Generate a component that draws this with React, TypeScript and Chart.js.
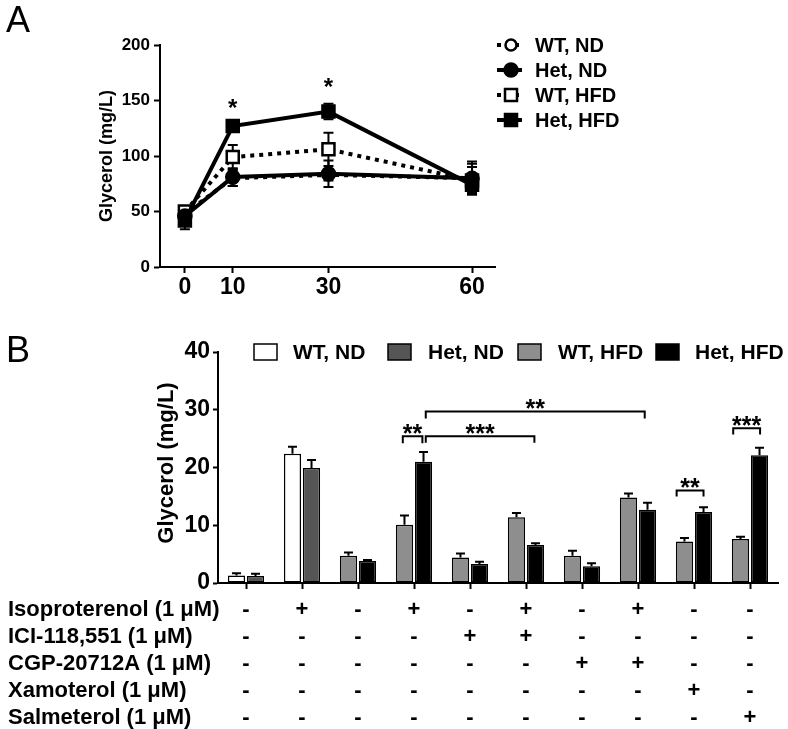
import React, { useEffect, useRef } from "react";
import { Chart, registerables } from "chart.js";

Chart.register(...registerables);

const FONT = "'Liberation Sans', Arial, Helvetica, sans-serif";

// ---------- Panel A data ----------
const timePoints = [0, 10, 30, 60];
const timeTicks = [0, 10, 30, 60];
const seriesNames = ["WT, ND", "Het, ND", "WT, HFD", "Het, HFD"];
const wtND_A = [48, 80, 83, 80];
const hetND_A = [46, 81, 84, 80];
const wtHFD_A = [50, 99, 106, 78];
const hetHFD_A = [42, 127, 140, 74];
const wtND_A_err = [5, 7, 5, 15];
const hetND_A_err = [6, 8, 12, 13];
const wtHFD_A_err = [5, 11, 15, 12];
const hetHFD_A_err = [8, 3, 7, 8];
const starTimesA = [10, 30];
const starLevelsA = [148, 167];

// ---------- Panel B data ----------
const conditionsB = ["Veh ND", "Iso ND", "Veh HFD", "Iso HFD", "ICI", "Iso+ICI", "CGP", "Iso+CGP", "Xam", "Sal"];
const wtND_B = [1.3, 22.4, null, null, null, null, null, null, null, null];
const hetND_B = [1.2, 19.9, null, null, null, null, null, null, null, null];
const wtHFD_B = [null, null, 4.7, 10.1, 4.4, 11.4, 4.7, 14.8, 7.2, 7.6];
const hetHFD_B = [null, null, 3.8, 21.0, 3.3, 6.6, 2.9, 12.7, 12.3, 22.1];
const wtND_B_err = [0.4, 1.2, null, null, null, null, null, null, null, null];
const hetND_B_err = [0.4, 1.4, null, null, null, null, null, null, null, null];
const wtHFD_B_err = [null, null, 0.6, 1.6, 0.7, 0.7, 0.9, 0.7, 0.6, 0.4];
const hetHFD_B_err = [null, null, 0.2, 1.7, 0.4, 0.3, 0.5, 1.2, 0.8, 1.3];

const bracketStart = [2.8, 3.21, 3.21, 7.69, 8.7];
const bracketEnd = [3.15, 5.15, 7.12, 8.17, 9.18];
const bracketLevel = [25.4, 25.4, 29.7, 16.0, 26.8];
const bracketLeg = [24.2, 24.3, 28.5, 15.0, 25.7];
const bracketLabel = ["**", "***", "**", "**", "***"];

const drugNames = [
  "Isoproterenol (1 \u03BCM)",
  "ICI-118,551 (1 \u03BCM)",
  "CGP-20712A (1 \u03BCM)",
  "Xamoterol (1 \u03BCM)",
  "Salmeterol (1 \u03BCM)",
];
const isoproterenol = ["-", "+", "-", "+", "-", "+", "-", "+", "-", "-"];
const ici118551 = ["-", "-", "-", "-", "+", "+", "-", "-", "-", "-"];
const cgp20712a = ["-", "-", "-", "-", "-", "-", "+", "+", "-", "-"];
const xamoterol = ["-", "-", "-", "-", "-", "-", "-", "-", "+", "-"];
const salmeterol = ["-", "-", "-", "-", "-", "-", "-", "-", "-", "+"];

const barColors = ["#ffffff", "#555555", "#8e8e8e", "#000000"];

function drawStar(ctx: CanvasRenderingContext2D, text: string, x: number, cy: number, size: number) {
  ctx.save();
  ctx.font = `bold ${size}px ${FONT}`;
  ctx.fillStyle = "#000";
  ctx.textAlign = "center";
  ctx.textBaseline = "alphabetic";
  ctx.fillText(text, x, cy + 0.55 * size);
  ctx.restore();
}

function drawMarker(ctx: CanvasRenderingContext2D, kind: string, x: number, y: number, filled: boolean) {
  ctx.save();
  ctx.lineWidth = 2.5;
  ctx.strokeStyle = "#000";
  ctx.fillStyle = filled ? "#000" : "#fff";
  ctx.beginPath();
  if (kind === "circle") {
    ctx.arc(x, y, filled ? 6.5 : 5.5, 0, Math.PI * 2);
  } else {
    ctx.rect(x - 6, y - 6, 12, 12);
  }
  ctx.fill();
  ctx.stroke();
  ctx.restore();
}

export default function App() {
  const refA = useRef<HTMLCanvasElement>(null);
  const refB = useRef<HTMLCanvasElement>(null);

  useEffect(() => {
    const valuesA = [wtND_A, hetND_A, wtHFD_A, hetHFD_A];
    const errsA = [wtND_A_err, hetND_A_err, wtHFD_A_err, hetHFD_A_err];
    const markerKinds = ["circle", "circle", "rect", "rect"];
    const markerFilled = [false, true, false, true];
    const dashed = [true, false, true, false];

    const panelAPlugin = {
      id: "panelA",
      beforeDatasetsDraw(chart: any) {
        const { ctx, scales } = chart;
        const x = scales.x, y = scales.y;
        ctx.save();
        ctx.strokeStyle = "#000";
        ctx.lineWidth = 2;
        valuesA.forEach((vals, s) => {
          timePoints.forEach((t, i) => {
            const px = x.getPixelForValue(t);
            const top = y.getPixelForValue(vals[i] + errsA[s][i]);
            const bot = y.getPixelForValue(vals[i] - errsA[s][i]);
            ctx.beginPath();
            ctx.moveTo(px, top); ctx.lineTo(px, bot);
            ctx.moveTo(px - 5, top); ctx.lineTo(px + 5, top);
            ctx.moveTo(px - 5, bot); ctx.lineTo(px + 5, bot);
            ctx.stroke();
          });
        });
        ctx.restore();
      },
      afterDraw(chart: any) {
        const { ctx, scales } = chart;
        const x = scales.x, y = scales.y;
        starTimesA.forEach((t, i) => drawStar(ctx, "*", x.getPixelForValue(t), y.getPixelForValue(starLevelsA[i]), 24));
        // legend
        const rows = [45, 70, 95, 120];
        seriesNames.forEach((name, i) => {
          const ry = rows[i];
          ctx.save();
          ctx.strokeStyle = "#000";
          ctx.lineWidth = 4;
          if (dashed[i]) ctx.setLineDash([4, 5]);
          ctx.beginPath();
          ctx.moveTo(497, ry); ctx.lineTo(522, ry);
          ctx.stroke();
          ctx.restore();
          drawMarker(ctx, markerKinds[i], 511, ry, markerFilled[i]);
          ctx.save();
          ctx.font = `bold 20px ${FONT}`;
          ctx.fillStyle = "#000";
          ctx.textAlign = "left";
          ctx.textBaseline = "middle";
          ctx.fillText(name, 535, ry + 1);
          ctx.restore();
        });
        // y title
        ctx.save();
        ctx.translate(107, 156);
        ctx.rotate(-Math.PI / 2);
        ctx.font = `bold 18px ${FONT}`;
        ctx.fillStyle = "#000";
        ctx.textAlign = "center";
        ctx.textBaseline = "middle";
        ctx.fillText("Glycerol (mg/L)", 0, 0);
        ctx.restore();
        // panel letter
        ctx.save();
        ctx.font = `36px ${FONT}`;
        ctx.fillStyle = "#000";
        ctx.textBaseline = "alphabetic";
        ctx.fillText("A", 6, 32);
        ctx.restore();
      },
    };

    const datasetsA = valuesA.map((vals, s) => ({
      label: seriesNames[s],
      data: timePoints.map((t, i) => ({ x: t, y: vals[i] })),
      borderColor: "#000",
      borderWidth: dashed[s] ? 4 : 4,
      borderDash: dashed[s] ? [4, 5] : [],
      borderCapStyle: "butt",
      pointStyle: markerKinds[s],
      pointRadius: markerKinds[s] === "rect" ? 8.5 : (markerFilled[s] ? 6.5 : 5.5),
      pointBackgroundColor: markerFilled[s] ? "#000" : "#fff",
      pointBorderColor: "#000",
      pointBorderWidth: 2.5,
      fill: false,
      tension: 0,
      order: [3, 1, 2, 0][s],
    }));

    const tickFont = (size: number) => ({ family: FONT, size, weight: "bold" as const });

    const chartA = new Chart(refA.current as HTMLCanvasElement, {
      type: "line",
      data: { datasets: datasetsA as any },
      options: {
        responsive: false,
        animation: false,
        events: [],
        layout: { padding: { left: 0, top: 45, right: 293, bottom: 0 } },
        plugins: { legend: { display: false }, tooltip: { enabled: false } },
        scales: {
          x: {
            type: "linear",
            min: -5.2,
            max: 64.8,
            afterBuildTicks: (s: any) => { s.ticks = timeTicks.map((v) => ({ value: v })); },
            afterFit: (s: any) => { s.height = 53; },
            grid: { drawOnChartArea: false, drawTicks: true, tickLength: 6, tickWidth: 2, color: "#000" },
            border: { color: "#000", width: 2 },
            ticks: { color: "#000", font: tickFont(23), padding: 1, maxRotation: 0, autoSkip: false },
          },
          y: {
            min: 0,
            max: 200,
            ticks: { stepSize: 50, color: "#000", font: tickFont(17), padding: 4 },
            afterFit: (s: any) => { s.width = 160; },
            grid: { drawOnChartArea: false, drawTicks: true, tickLength: 6, tickWidth: 2, color: "#000" },
            border: { color: "#000", width: 2 },
          },
        },
      } as any,
      plugins: [panelAPlugin],
    });

    // ---------- Panel B ----------
    const valuesB = [wtND_B, hetND_B, wtHFD_B, hetHFD_B];
    const errsB = [wtND_B_err, hetND_B_err, wtHFD_B_err, hetHFD_B_err];
    const tableRows = [isoproterenol, ici118551, cgp20712a, xamoterol, salmeterol];

    const panelBPlugin = {
      id: "panelB",
      afterDatasetsDraw(chart: any) {
        const { ctx, scales } = chart;
        const y = scales.y;
        ctx.save();
        ctx.strokeStyle = "#000";
        ctx.lineWidth = 2;
        valuesB.forEach((vals, d) => {
          const meta = chart.getDatasetMeta(d);
          vals.forEach((v, i) => {
            const e = errsB[d][i];
            if (v === null || e === null) return;
            const px = meta.data[i].x;
            const top = y.getPixelForValue((v as number) + (e as number));
            const base = y.getPixelForValue(v as number);
            ctx.beginPath();
            ctx.moveTo(px, base); ctx.lineTo(px, top);
            ctx.moveTo(px - 4.5, top); ctx.lineTo(px + 4.5, top);
            ctx.stroke();
          });
        });
        ctx.restore();
      },
      afterDraw(chart: any) {
        const { ctx, scales } = chart;
        const x = scales.x, y = scales.y;
        const c0 = x.getPixelForValue(0);
        const step = x.getPixelForValue(1) - c0;
        const px = (v: number) => c0 + v * step;
        // brackets
        ctx.save();
        ctx.strokeStyle = "#000";
        ctx.lineWidth = 2;
        bracketStart.forEach((b, i) => {
          const x1 = px(b), x2 = px(bracketEnd[i]);
          const yl = y.getPixelForValue(bracketLevel[i]);
          const yg = y.getPixelForValue(bracketLeg[i]);
          ctx.beginPath();
          ctx.moveTo(x1, yg); ctx.lineTo(x1, yl); ctx.lineTo(x2, yl); ctx.lineTo(x2, yg);
          ctx.stroke();
          drawStar(ctx, bracketLabel[i], (x1 + x2) / 2, yl - 8, 25);
        });
        ctx.restore();
        // legend
        const boxX = [254, 388, 518, 656];
        const textX = [293, 428, 558, 695];
        const ly = 32;
        seriesNames.forEach((name, i) => {
          ctx.save();
          ctx.fillStyle = barColors[i];
          ctx.strokeStyle = "#000";
          ctx.lineWidth = 1.5;
          ctx.fillRect(boxX[i], ly - 8, 23, 16);
          ctx.strokeRect(boxX[i], ly - 8, 23, 16);
          ctx.font = `bold 21px ${FONT}`;
          ctx.fillStyle = "#000";
          ctx.textAlign = "left";
          ctx.textBaseline = "middle";
          ctx.fillText(name, textX[i], ly + 1);
          ctx.restore();
        });
        // y title
        ctx.save();
        ctx.translate(167, 143);
        ctx.rotate(-Math.PI / 2);
        ctx.font = `bold 22px ${FONT}`;
        ctx.fillStyle = "#000";
        ctx.textAlign = "center";
        ctx.textBaseline = "middle";
        ctx.fillText("Glycerol (mg/L)", 0, 0);
        ctx.restore();
        // panel letter
        ctx.save();
        ctx.font = `36px ${FONT}`;
        ctx.fillStyle = "#000";
        ctx.textBaseline = "alphabetic";
        ctx.fillText("B", 6, 42);
        ctx.restore();
        // treatment table
        ctx.save();
        ctx.font = `bold 22px ${FONT}`;
        ctx.fillStyle = "#000";
        ctx.textBaseline = "middle";
        drugNames.forEach((name, r) => {
          const ry = 290 + r * 27;
          ctx.textAlign = "left";
          ctx.fillText(name, 8, ry);
          ctx.textAlign = "center";
          tableRows[r].forEach((sym, i) => {
            ctx.fillText(sym, x.getPixelForValue(i), ry);
          });
        });
        ctx.restore();
      },
    };

    const chartB = new Chart(refB.current as HTMLCanvasElement, {
      type: "bar",
      data: {
        labels: conditionsB,
        datasets: valuesB.map((vals, d) => ({
          label: seriesNames[d],
          data: vals,
          backgroundColor: barColors[d],
          borderColor: "#000",
          borderWidth: 1.5,
          borderSkipped: false,
          categoryPercentage: 0.68,
          barPercentage: 0.9,
          skipNull: true,
        })) as any,
      },
      options: {
        responsive: false,
        animation: false,
        events: [],
        layout: { padding: { left: 0, top: 32, right: 10, bottom: 0 } },
        plugins: { legend: { display: false }, tooltip: { enabled: false } },
        scales: {
          x: {
            ticks: { display: false },
            afterFit: (s: any) => { s.height = 146; },
            grid: { drawOnChartArea: false, drawTicks: true, offset: false, tickLength: 6, tickWidth: 2, color: "#000" },
            border: { color: "#000", width: 2 },
          },
          y: {
            min: 0,
            max: 40,
            ticks: { stepSize: 10, color: "#000", font: tickFont(23), padding: 3 },
            afterFit: (s: any) => { s.width = 218; },
            grid: { drawOnChartArea: false, drawTicks: true, tickLength: 5, tickWidth: 2, color: "#000" },
            border: { color: "#000", width: 2 },
          },
        },
      } as any,
      plugins: [panelBPlugin],
    });

    return () => {
      chartA.destroy();
      chartB.destroy();
    };
  }, []);

  return (
    <div style={{ position: "fixed", left: 0, top: 0, width: 788, height: 729, background: "#fff", overflow: "hidden" }}>
      <canvas ref={refA} width={788} height={320} style={{ position: "absolute", left: 0, top: 0, width: 788, height: 320 }} />
      <canvas ref={refB} width={788} height={409} style={{ position: "absolute", left: 0, top: 320, width: 788, height: 409 }} />
    </div>
  );
}
